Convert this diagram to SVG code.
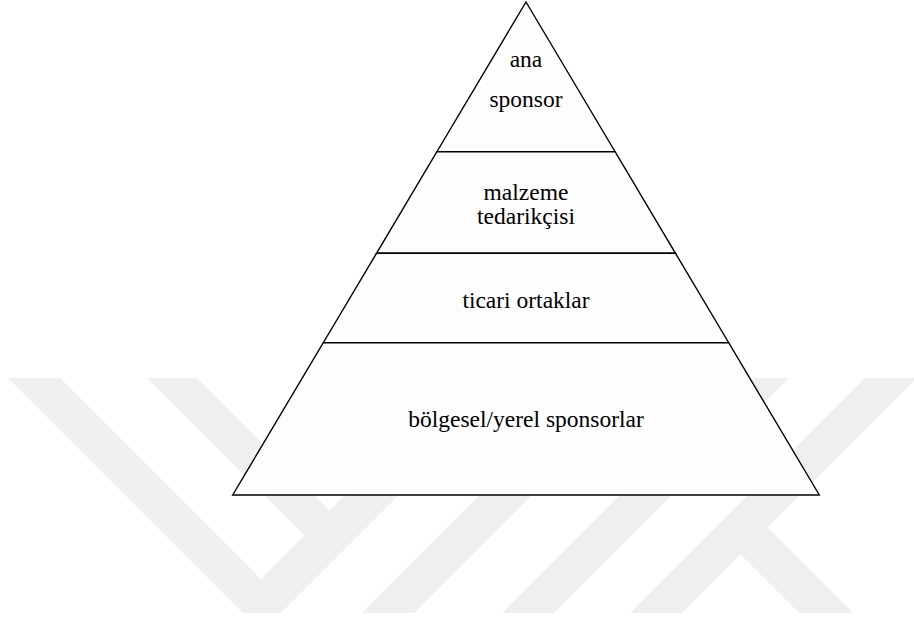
<svg xmlns="http://www.w3.org/2000/svg" width="914" height="620" viewBox="0 0 914 620">
  <style>
    .wm { fill: #efefef; stroke: none; }
    .tier { fill: #fdfdfd; stroke: #000000; stroke-width: 1.4; stroke-linejoin: miter; }
    .lbl { font-size: 23.5px; fill: #000000; text-anchor: middle; }
  </style>
  <rect x="0" y="0" width="914" height="620" fill="#ffffff"/>
  <g id="watermark">
    <polygon class="wm" points="8,378 60,378 261,579 304.5,535.5 147,378 197,378 329.5,510.5 462,378 516,378 281,613 243,613"/>
    <polygon class="wm" points="597,378 649,378 414,613 362,613"/>
    <polygon class="wm" points="737,378 789,378 554,613 502,613"/>
    <polygon class="wm" points="865,378 917,378 767.5,527.5 853,613 799,613 740.5,554.5 682,613 630,613"/>
  </g>
  <g id="connectors"></g>
  <g font-family="'Liberation Serif', 'DejaVu Serif', serif">
    <g id="tier-ana-sponsor">
      <polygon class="tier" points="526,2 615.1,151.7 436.9,151.7"/>
      <text class="lbl" x="526" y="66.7">ana</text>
      <text class="lbl" x="526" y="107">sponsor</text>
    </g>
    <g id="tier-malzeme-tedarikcisi">
      <polygon class="tier" points="436.9,151.7 615.1,151.7 675.5,253.3 376.5,253.3"/>
      <text class="lbl" x="526" y="199.5">malzeme</text>
      <text class="lbl" x="526" y="224">tedarikçisi</text>
    </g>
    <g id="tier-ticari-ortaklar">
      <polygon class="tier" points="376.5,253.3 675.5,253.3 728.7,342.7 323.3,342.7"/>
      <text class="lbl" x="526" y="308.3">ticari ortaklar</text>
    </g>
    <g id="tier-bolgesel-yerel">
      <polygon class="tier" points="323.3,342.7 728.7,342.7 819.3,495 232.7,495"/>
      <text class="lbl" x="526" y="426.7">bölgesel/yerel sponsorlar</text>
    </g>
  </g>
</svg>
